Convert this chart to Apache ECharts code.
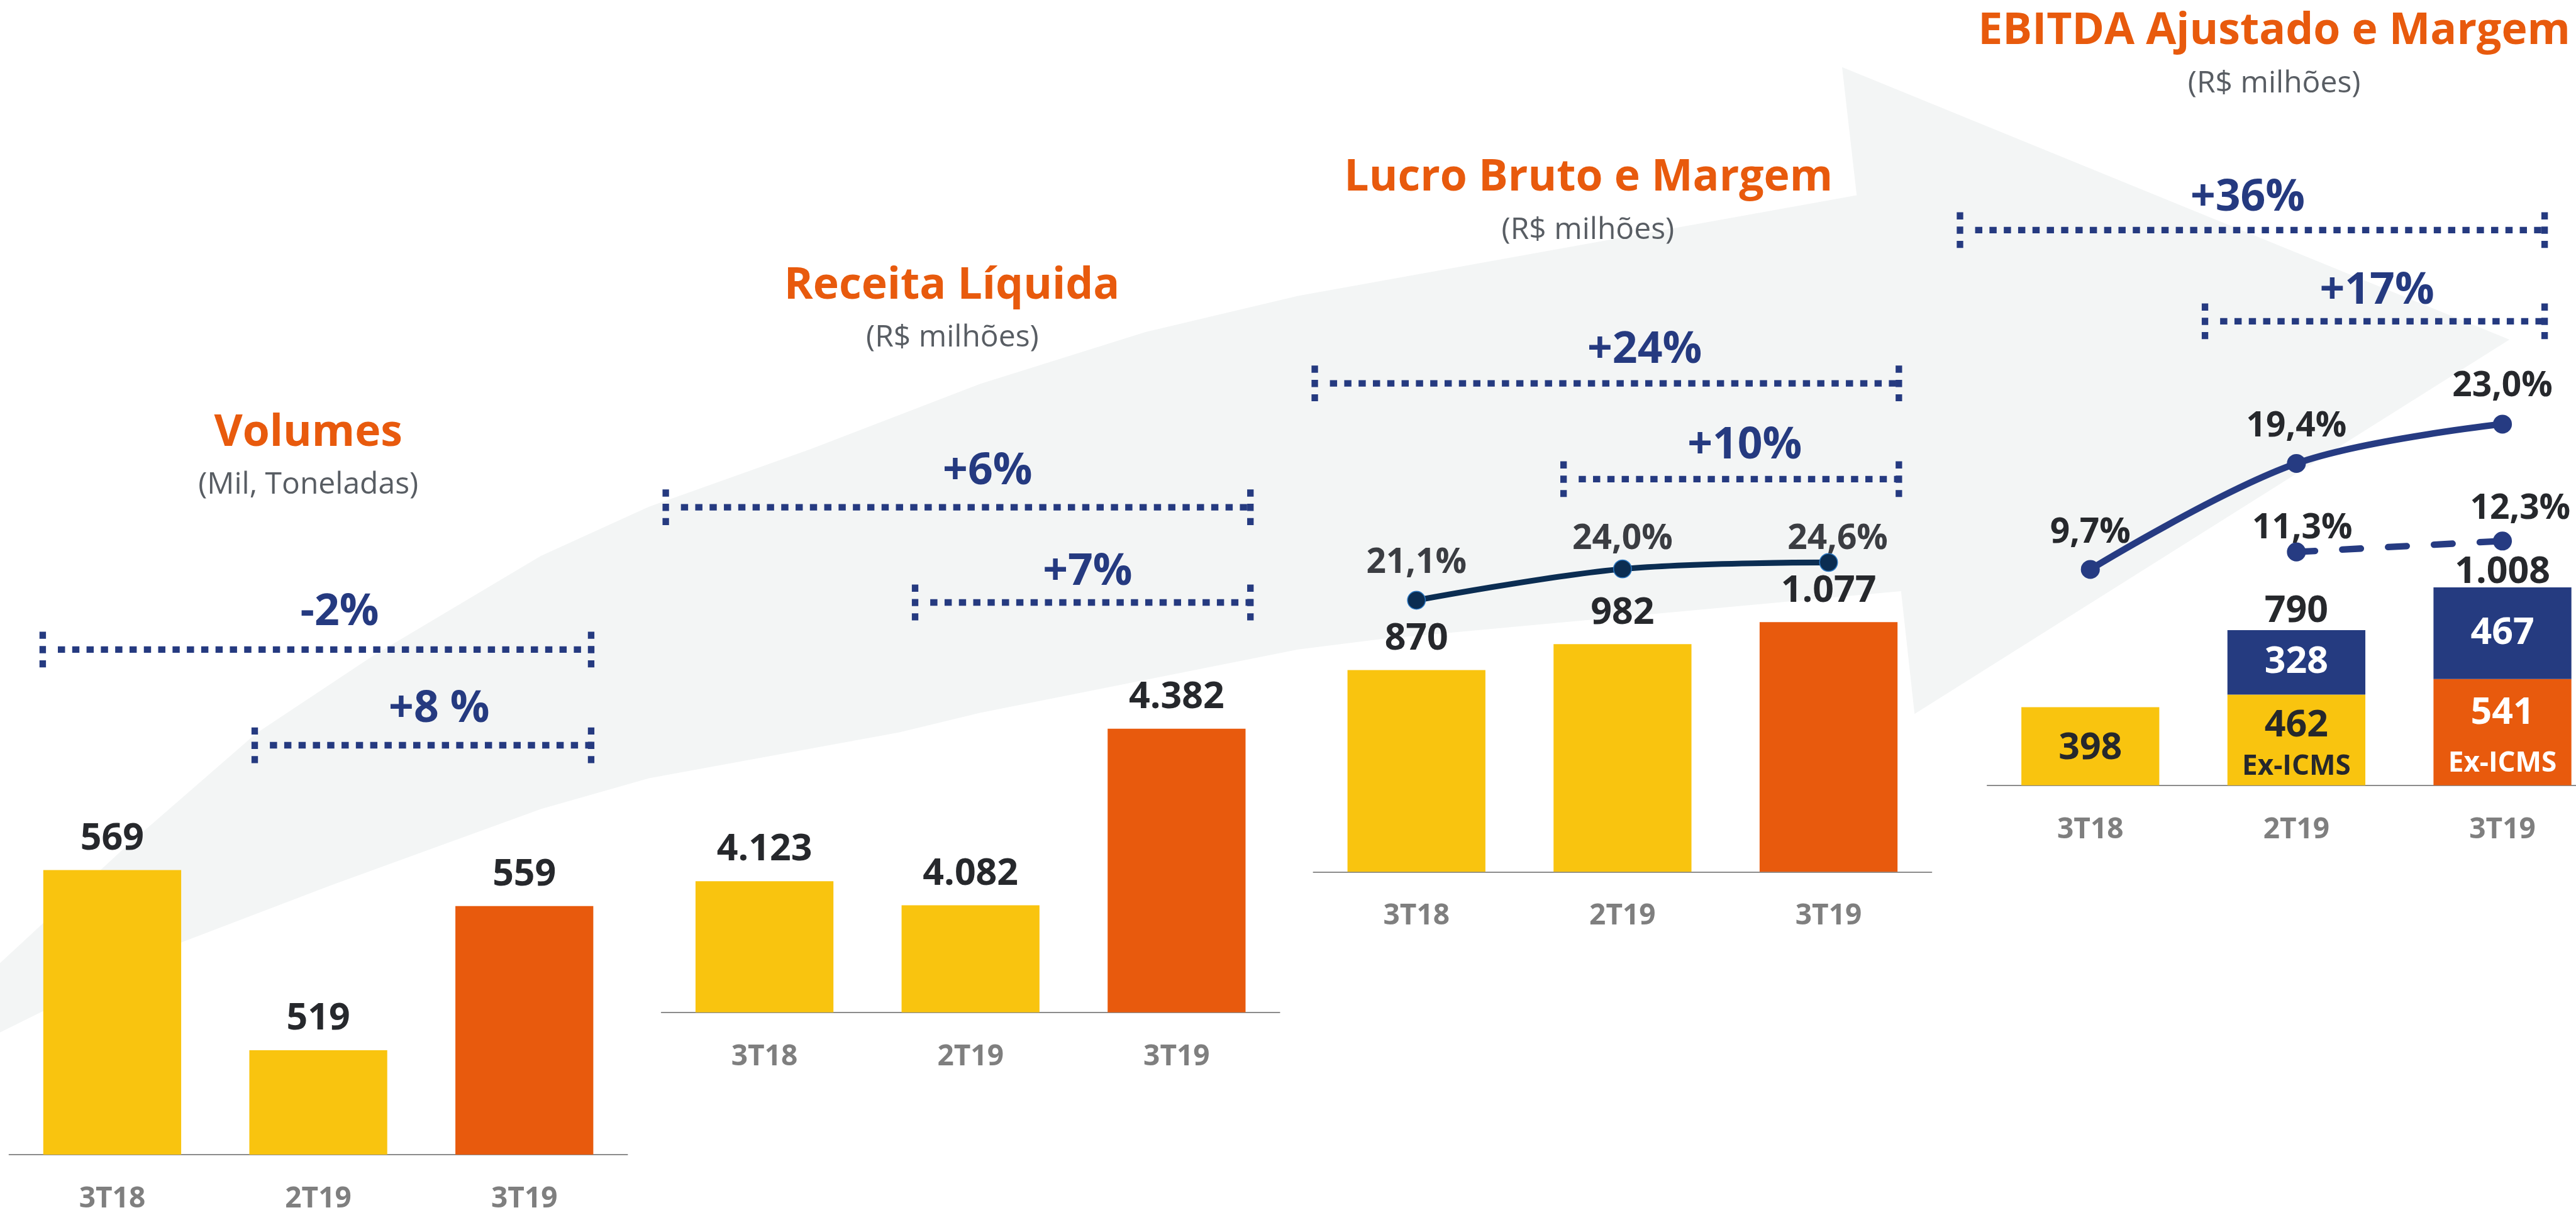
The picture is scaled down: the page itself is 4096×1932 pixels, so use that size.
<!DOCTYPE html>
<html><head><meta charset="utf-8">
<script src="https://cdn.jsdelivr.net/npm/echarts/dist/echarts.min.js"></script>
<style>html,body{margin:0;padding:0;background:#fff}#c{width:4096px;height:1932px}</style>
</head><body><div id="c"></div>
<script>
// ---------------- DATA ----------------
const categories = ['3T18', '2T19', '3T19'];
const volumes = [569, 519, 559];
const receita = [4123, 4082, 4382];
const lucroBruto = [870, 982, 1077];
const margemBruta = [21.1, 24.0, 24.6];
const ebitdaBase = [398, 462, 541];
const ebitdaIcms = ['-', 328, 467];
const ebitdaTotal = ['-', 790, 1008];
const margemEbitda = [9.7, 19.4, 23.0];
const margemEbitdaExIcms = ['-', 11.3, 12.3];
const exIcmsNote = ['', 'Ex-ICMS', 'Ex-ICMS'];
const panelTitles = ['Volumes', 'Receita Líquida', 'Lucro Bruto e Margem', 'EBITDA Ajustado e Margem'];
const panelSubtitles = ['(Mil, Toneladas)', '(R$ milhões)', '(R$ milhões)', '(R$ milhões)'];
const changeLabels = [['-2%', '+8 %'], ['+6%', '+7%'], ['+24%', '+10%'], ['+36%', '+17%']];

// ---------------- LAYOUT / STYLE ----------------
const S = 4096 / 4763;
const R = v => v * S;
const FONT = "'Open Sans', 'Noto Sans', sans-serif";
const YELLOW = '#f9c40f', ORANGE = '#e85a0d', NAVY = '#253a80', DARK = '#26282c',
      GRAY = '#7f7f7f', SUB = '#585d63', BG = '#f3f5f5';
const barColors = [YELLOW, YELLOW, ORANGE];

// reference-pixel layout of the four panels
const panels = [
  { left: 17, base: 2135, h: 732.6, min: 490, max: 600 },
  { left: 1223, base: 1872, h: 653, min: 3900, max: 4500 },
  { left: 2428.5, base: 1612, h: 600, min: 0, max: 1400 },
  { left: 3674.5, base: 1452, h: 900, min: 0, max: 2479 }
];
const BAND = 381;
const titlePos = [[570, 801], [1760, 529], [2937, 329], [4205, 58]];
const subPos = [[570, 897], [1761, 625], [2936, 426], [4205, 155]];
const changePos = [[[628, 1133], [812, 1312]], [[1826, 872], [2011, 1058]],
                   [[3041, 648], [3226, 825]], [[4156, 367], [4395, 539]]];
const bracketPos = [[[1201, 79, 1093], [1378, 471, 1093]], [[938, 1231, 2312], [1114, 1692, 2312]],
                    [[709, 2431, 3511], [886, 2891, 3511]], [[425.5, 3624, 4705], [594, 4077, 4705]]];
const bgPoly = [[0,1781],[230,1568],[474,1356],[689,1213],[1000,1028],[1200,937],[1500,830],[1812,710],[2118,614],[2400,547],[3433,361],
  [3406,124],[4640,628],[3540,1320],[3515,1093],
  [2550,1182],[2400,1201],[1812,1318],[1663,1354],[1200,1439],[1000,1496],[612,1637],[337,1742],[0,1909]];

// label fine-tuning (output px)
const m3Dist = [16.5, 4.5, -5.8], m3Dx = [0, 0, 14.6];
const m4Dist = [15.8, 15.8, 17.5];
const m4bDist = [0, -5.7, 8.9], m4bDx = [0, 9.4, 28.3];
const totDist = [0, 0, -6];

const fmtNum = v => {
  v = Math.round(v);
  return v >= 1000 ? Math.floor(v / 1000) + '.' + String(v % 1000).padStart(3, '0') : String(v);
};
const fmtPct = v => v.toFixed(1).replace('.', ',') + '%';

const VAL_FS = 59, PCT_FS = 55;

const grids = panels.map(p => ({
  left: R(p.left), top: R(p.base - p.h), width: R(3 * BAND), height: R(p.h),
  containLabel: false, outerBoundsMode: 'none'
}));
const xAxes = panels.map((p, i) => ({
  type: 'category', gridIndex: i, data: categories,
  axisLine: { show: true, onZero: false, lineStyle: { color: '#8c8c8c', width: 2 } },
  axisTick: { show: false },
  axisLabel: { color: GRAY, fontFamily: FONT, fontWeight: 'bold', fontSize: 46, lineHeight: 46, margin: 48 }
}));
const yAxes = [
  { gridIndex: 0, min: panels[0].min, max: panels[0].max },
  { gridIndex: 1, min: panels[1].min, max: panels[1].max },
  { gridIndex: 2, min: panels[2].min, max: panels[2].max },
  { gridIndex: 2, min: -4, max: 26 },
  { gridIndex: 3, min: panels[3].min, max: panels[3].max },
  { gridIndex: 3, min: -10.06, max: 34.5 }
].map(a => Object.assign({ type: 'value', show: false, splitLine: { show: false } }, a));

const topLabel = {
  show: true, position: 'top', distance: 20, color: DARK, opacity: 1, fontFamily: FONT,
  fontWeight: 'bold', fontSize: VAL_FS, lineHeight: VAL_FS, formatter: p => fmtNum(p.value)
};
const simpleBar = (vals, i) => ({
  type: 'bar', xAxisIndex: i, yAxisIndex: i === 3 ? 4 : (i === 2 ? 2 : i), barWidth: R(255),
  data: vals.map((v, k) => ({ value: v, itemStyle: { color: barColors[k] } })),
  label: topLabel
});

const pctLabel = (color) => ({
  show: true, position: 'top', color, fontFamily: FONT, fontWeight: 'bold',
  fontSize: PCT_FS, lineHeight: PCT_FS, formatter: p => fmtPct(p.value)
});

const baseRich = [
  { v: { fontSize: VAL_FS, lineHeight: VAL_FS, color: DARK }, e: { fontSize: 44, lineHeight: 44, color: DARK } },
  { v: { fontSize: VAL_FS, lineHeight: VAL_FS, color: DARK }, e: { fontSize: 44, lineHeight: 70, color: DARK } },
  { v: { fontSize: VAL_FS, lineHeight: VAL_FS, color: '#fff' }, e: { fontSize: 44, lineHeight: 101, color: '#fff' } }
];
const baseOffset = [4, 13, 20.4];

const LW4 = R(12);
const series = [
  simpleBar(volumes, 0),
  simpleBar(receita, 1),
  simpleBar(lucroBruto, 2),
  {
    type: 'line', xAxisIndex: 2, yAxisIndex: 3, smooth: 0.35,
    symbol: 'circle', symbolSize: R(33),
    lineStyle: { color: '#0b2d52', width: R(10.5) },
    itemStyle: { color: '#0b2d52', borderColor: '#2a76c0', borderWidth: 1.5 },
    label: pctLabel('#3b3d42'),
    data: margemBruta.map((v, k) => ({ value: v, label: { distance: m3Dist[k], offset: [m3Dx[k], 0] } })),
    z: 5
  },
  {
    type: 'bar', xAxisIndex: 3, yAxisIndex: 4, stack: 'ebitda', barWidth: R(255),
    data: ebitdaBase.map((v, k) => ({
      value: v, itemStyle: { color: barColors[k] },
      label: { rich: baseRich[k], offset: [0, baseOffset[k]] }
    })),
    label: {
      show: true, position: 'inside', fontFamily: FONT, fontWeight: 'bold',
      formatter: p => '{v|' + fmtNum(p.value) + '}' + (exIcmsNote[p.dataIndex] ? '\n{e|' + exIcmsNote[p.dataIndex] + '}' : '')
    }
  },
  {
    type: 'bar', xAxisIndex: 3, yAxisIndex: 4, stack: 'ebitda', barWidth: R(255),
    itemStyle: { color: '#253b80' },
    data: ebitdaIcms,
    label: { show: true, position: 'inside', color: '#fff', fontFamily: FONT, fontWeight: 'bold',
             fontSize: VAL_FS, lineHeight: VAL_FS, formatter: p => fmtNum(p.value) }
  },
  {
    type: 'scatter', xAxisIndex: 3, yAxisIndex: 4, symbolSize: 1,
    itemStyle: { color: 'rgba(0,0,0,0)', opacity: 1 },
    data: ebitdaTotal.map((v, k) => v === '-' ? '-' : ({ value: v, label: { distance: totDist[k] } })),
    label: Object.assign({}, topLabel, { distance: 0 }),
    z: 6
  },
  {
    type: 'line', xAxisIndex: 3, yAxisIndex: 5, smooth: 0.35,
    symbol: 'circle', symbolSize: R(35),
    lineStyle: { color: '#263b82', width: LW4 },
    itemStyle: { color: '#263b82' },
    label: pctLabel(DARK),
    data: margemEbitda.map((v, k) => ({ value: v, label: { distance: m4Dist[k] } })),
    z: 5
  },
  {
    type: 'line', xAxisIndex: 3, yAxisIndex: 5,
    symbol: 'circle', symbolSize: R(35),
    lineStyle: { color: '#263b82', width: LW4, type: [40 - LW4, 33 + LW4], cap: 'round' },
    itemStyle: { color: '#263b82' },
    label: pctLabel(DARK),
    data: margemEbitdaExIcms.map((v, k) => v === '-' ? '-' : ({ value: v, label: { distance: m4bDist[k], offset: [m4bDx[k], 0] } })),
    z: 5
  }
];

// ---------------- DECORATION ----------------
const graphic = [];
graphic.push({
  type: 'polygon', z: -10, silent: true,
  shape: { points: bgPoly.map(p => [R(p[0]), R(p[1])]) },
  style: { fill: BG }
});
const txt = (text, pos, size, weight, color) => ({
  type: 'text', x: R(pos[0]), y: R(pos[1]), z: 10, silent: true,
  style: { text, fill: color, fontSize: size, fontWeight: weight, fontFamily: FONT, align: 'center', verticalAlign: 'middle' }
});
const dashStyle = { stroke: NAVY, lineWidth: R(12), lineDash: [R(13.3), R(13.2)] };
panelTitles.forEach((t, i) => {
  graphic.push(txt(t, titlePos[i], R(81), 'bold', ORANGE));
  graphic.push(txt(panelSubtitles[i], subPos[i], 48, 'normal', SUB));
  changeLabels[i].forEach((c, j) => {
    graphic.push(txt(c, changePos[i][j], R(81), 'bold', NAVY));
    const [y, x1, x2] = bracketPos[i][j];
    graphic.push({ type: 'line', z: 10, silent: true, shape: { x1: R(x1 + 28), y1: R(y), x2: R(x2 + 6), y2: R(y) }, style: dashStyle });
    [x1, x2].forEach(x => graphic.push({ type: 'line', z: 10, silent: true,
      shape: { x1: R(x), y1: R(y - 33), x2: R(x), y2: R(y + 33) }, style: dashStyle }));
  });
});

const chart = echarts.init(document.getElementById('c'), null, { renderer: 'canvas' });
chart.setOption({
  backgroundColor: '#ffffff',
  animation: false,
  textStyle: { fontFamily: FONT },
  grid: grids,
  xAxis: xAxes,
  yAxis: yAxes,
  series,
  graphic
});
</script>
</body></html>
